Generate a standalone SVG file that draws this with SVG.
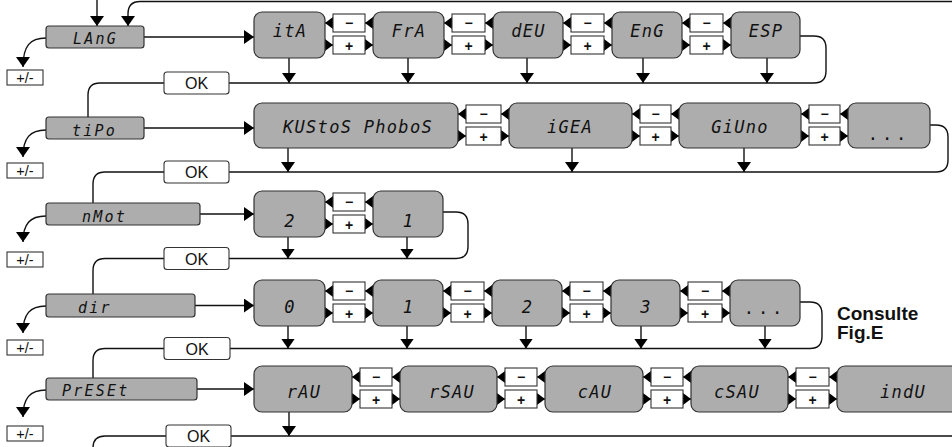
<svg xmlns="http://www.w3.org/2000/svg" width="952" height="447" viewBox="0 0 952 447">
<defs>
<style>
.ln{fill:none;stroke:#111;stroke-width:1.4}
.ar{marker-end:url(#ah)}
.tr{marker-end:url(#tr)}
.gb{fill:#adadad;stroke:#333;stroke-width:1.2}
.wb{fill:#fff;stroke:#333;stroke-width:1.1}
.seg{font-family:"DejaVu Sans Mono",monospace;font-style:italic;fill:#111}
.lt{font-size:15px;letter-spacing:2.2px}
.vt{font-size:17px;letter-spacing:1.3px;text-anchor:middle}
.dots{font-family:"DejaVu Sans Mono",monospace;font-size:17px;letter-spacing:4px;text-anchor:middle;fill:#111}
.bt{font-family:"Liberation Sans",Arial,sans-serif;text-anchor:middle;fill:#111}
.pm{font-size:14px;font-weight:bold}
.ok{font-size:16px}
.pl{font-size:14.5px}
.note{font-family:"Liberation Sans",Arial,sans-serif;font-weight:bold;font-size:19px;fill:#111}
</style>
<marker id="ah" viewBox="0 0 10 14" refX="10" refY="7" markerWidth="10" markerHeight="14" markerUnits="userSpaceOnUse" orient="auto"><path d="M0,0 L10,7 L0,14 Z" fill="#000"/></marker>
<marker id="tr" viewBox="0 0 8 12" refX="8" refY="6" markerWidth="8" markerHeight="12" markerUnits="userSpaceOnUse" orient="auto"><path d="M0,0 L8,6 L0,12 Z" fill="#000"/></marker>
</defs>
<rect width="952" height="447" fill="#fff"/>

<g id="connectors">
<path class="ln ar" d="M97,0 V26"/>
<path class="ln ar" d="M952,1.5 H140 Q128,1.5 128,14 V26"/>
<path class="ln ar" d="M144,37 H254"/>
<path class="ln ar" d="M144,128 H254"/>
<path class="ln ar" d="M200,214 H254"/>
<path class="ln ar" d="M195,305.5 H254"/>
<path class="ln ar" d="M197,389 H254"/>
<path class="ln ar" d="M46,38 C30,38 23,46 23,67"/>
<path class="ln ar" d="M46,130 C30,130 23,138 23,157"/>
<path class="ln ar" d="M46,216 C30,216 23,224 23,242"/>
<path class="ln ar" d="M46,306 C30,306 23,314 23,333"/>
<path class="ln ar" d="M46,390 C30,390 23,398 23,417"/>
<path class="ln" d="M800,36 H814 Q826,36 826,48 V71 Q826,83 814,83 H100 Q88,83 88,95 V117"/>
<path class="ln" d="M930,125 H936 Q948,125 948,137 V160 Q948,172 936,172 H105 Q93,172 93,184 V203"/>
<path class="ln" d="M443,212 H456 Q468,212 468,224 V246.5 Q468,258.5 456,258.5 H105 Q93,258.5 93,270.5 V294"/>
<path class="ln" d="M800,302 H810 Q822,302 822,314 V336.5 Q822,348.5 810,348.5 H105 Q93,348.5 93,360.5 V378"/>
<path class="ln" d="M952,436 H105 Q93,436 93,448"/>
<path class="ln ar" d="M289,58 V83"/>
<path class="ln ar" d="M408,58 V83"/>
<path class="ln ar" d="M527,58 V83"/>
<path class="ln ar" d="M643,58 V83"/>
<path class="ln ar" d="M767,58 V83"/>
<path class="ln ar" d="M288,148 V172"/>
<path class="ln ar" d="M572,148 V172"/>
<path class="ln ar" d="M744,148 V172"/>
<path class="ln ar" d="M288,237 V258.5"/>
<path class="ln ar" d="M407,237 V258.5"/>
<path class="ln ar" d="M288,326 V348.5"/>
<path class="ln ar" d="M407,326 V348.5"/>
<path class="ln ar" d="M526,326 V348.5"/>
<path class="ln ar" d="M641,326 V348.5"/>
<path class="ln ar" d="M765,326 V348.5"/>
<path class="ln ar" d="M289,412 V436"/>
<path class="ln tr" d="M333,23 H325"/><path class="ln tr" d="M373,23 H365"/><path class="ln tr" d="M325,45 H333"/><path class="ln tr" d="M365,45 H373"/>
<path class="ln tr" d="M452,23 H444"/><path class="ln tr" d="M493,23 H485"/><path class="ln tr" d="M444,45 H452"/><path class="ln tr" d="M485,45 H493"/>
<path class="ln tr" d="M571,23 H563"/><path class="ln tr" d="M612,23 H604"/><path class="ln tr" d="M563,45 H571"/><path class="ln tr" d="M604,45 H612"/>
<path class="ln tr" d="M690,23 H682"/><path class="ln tr" d="M731,23 H723"/><path class="ln tr" d="M682,45 H690"/><path class="ln tr" d="M723,45 H731"/>
<path class="ln tr" d="M466,114 H458"/><path class="ln tr" d="M509,114 H501"/><path class="ln tr" d="M458,136 H466"/><path class="ln tr" d="M501,136 H509"/>
<path class="ln tr" d="M640,114 H632"/><path class="ln tr" d="M679,114 H671"/><path class="ln tr" d="M632,136 H640"/><path class="ln tr" d="M671,136 H679"/>
<path class="ln tr" d="M809,114 H801"/><path class="ln tr" d="M848,114 H840"/><path class="ln tr" d="M801,136 H809"/><path class="ln tr" d="M840,136 H848"/>
<path class="ln tr" d="M333,202 H325"/><path class="ln tr" d="M373,202 H365"/><path class="ln tr" d="M325,224 H333"/><path class="ln tr" d="M365,224 H373"/>
<path class="ln tr" d="M333,291 H325"/><path class="ln tr" d="M373,291 H365"/><path class="ln tr" d="M325,313 H333"/><path class="ln tr" d="M365,313 H373"/>
<path class="ln tr" d="M451,291 H443"/><path class="ln tr" d="M492,291 H484"/><path class="ln tr" d="M443,313 H451"/><path class="ln tr" d="M484,313 H492"/>
<path class="ln tr" d="M570,291 H562"/><path class="ln tr" d="M611,291 H603"/><path class="ln tr" d="M562,313 H570"/><path class="ln tr" d="M603,313 H611"/>
<path class="ln tr" d="M688,291 H680"/><path class="ln tr" d="M730,291 H722"/><path class="ln tr" d="M680,313 H688"/><path class="ln tr" d="M722,313 H730"/>
<path class="ln tr" d="M360,377 H352"/><path class="ln tr" d="M400,377 H392"/><path class="ln tr" d="M352,399 H360"/><path class="ln tr" d="M392,399 H400"/>
<path class="ln tr" d="M505,377 H497"/><path class="ln tr" d="M545,377 H537"/><path class="ln tr" d="M497,399 H505"/><path class="ln tr" d="M537,399 H545"/>
<path class="ln tr" d="M651,377 H643"/><path class="ln tr" d="M691,377 H683"/><path class="ln tr" d="M643,399 H651"/><path class="ln tr" d="M683,399 H691"/>
<path class="ln tr" d="M796,377 H788"/><path class="ln tr" d="M837,377 H829"/><path class="ln tr" d="M788,399 H796"/><path class="ln tr" d="M829,399 H837"/>
</g>

<g id="lbl-lang"><rect class="gb" x="46" y="26" width="98" height="22" rx="3"/><text class="seg lt" x="73" y="44">LAnG</text></g>
<g id="lbl-tipo"><rect class="gb" x="46" y="117" width="98" height="22" rx="3"/><text class="seg lt" x="72" y="136">tiPo</text></g>
<g id="lbl-nmot"><rect class="gb" x="46" y="203" width="154" height="22" rx="3"/><text class="seg lt" x="82" y="222">nMot</text></g>
<g id="lbl-dir"><rect class="gb" x="46" y="294" width="149" height="23" rx="3"/><text class="seg lt" x="78" y="313">dir</text></g>
<g id="lbl-preset"><rect class="gb" x="46" y="378" width="151" height="22" rx="3"/><text class="seg lt" x="62" y="396">PrESEt</text></g>

<g id="pm-1"><rect class="wb" x="7" y="70" width="36" height="15"/><text class="bt pl" x="25" y="82.5">+/-</text></g>
<g id="pm-2"><rect class="wb" x="7" y="163" width="36" height="15"/><text class="bt pl" x="25" y="175.5">+/-</text></g>
<g id="pm-3"><rect class="wb" x="7" y="252" width="36" height="15"/><text class="bt pl" x="25" y="264.5">+/-</text></g>
<g id="pm-4"><rect class="wb" x="7" y="340" width="36" height="15"/><text class="bt pl" x="25" y="352.5">+/-</text></g>
<g id="pm-5"><rect class="wb" x="7" y="426" width="36" height="15"/><text class="bt pl" x="25" y="438.5">+/-</text></g>

<g id="ok-1"><rect class="wb" x="164" y="72" width="65" height="22" rx="3"/><text class="bt ok" x="196.5" y="89">OK</text></g>
<g id="ok-2"><rect class="wb" x="164" y="161" width="65" height="22" rx="3"/><text class="bt ok" x="196.5" y="178">OK</text></g>
<g id="ok-3"><rect class="wb" x="164" y="247.5" width="65" height="22" rx="3"/><text class="bt ok" x="196.5" y="264.5">OK</text></g>
<g id="ok-4"><rect class="wb" x="164" y="337.5" width="66" height="22" rx="3"/><text class="bt ok" x="197" y="354.5">OK</text></g>
<g id="ok-5"><rect class="wb" x="166" y="425" width="65" height="22" rx="3"/><text class="bt ok" x="198.5" y="442">OK</text></g>

<g id="v-ita"><rect class="gb" x="254" y="12" width="71" height="46" rx="8"/><text class="seg vt" x="290" y="37">itA</text></g>
<g id="v-fra"><rect class="gb" x="373" y="12" width="71" height="46" rx="8"/><text class="seg vt" x="409" y="37">FrA</text></g>
<g id="v-deu"><rect class="gb" x="493" y="12" width="70" height="46" rx="8"/><text class="seg vt" x="528.5" y="37">dEU</text></g>
<g id="v-eng"><rect class="gb" x="612" y="12" width="70" height="46" rx="8"/><text class="seg vt" x="647.5" y="37">EnG</text></g>
<g id="v-esp"><rect class="gb" x="731" y="12" width="69" height="46" rx="8"/><text class="seg vt" x="766" y="37">ESP</text></g>
<g id="v-kustos"><rect class="gb" x="254" y="103" width="204" height="45" rx="8"/><text class="seg vt" x="358" y="133">KUStoS PhoboS</text></g>
<g id="v-igea"><rect class="gb" x="509" y="103" width="123" height="45" rx="8"/><text class="seg vt" x="570" y="133">iGEA</text></g>
<g id="v-giuno"><rect class="gb" x="679" y="103" width="122" height="45" rx="8"/><text class="seg vt" x="740" y="133">GiUno</text></g>
<g id="v-tipo-more"><rect class="gb" x="848" y="103" width="82" height="45" rx="8"/><text class="dots" x="889" y="140">...</text></g>
<g id="v-nmot-2"><rect class="gb" x="254" y="191" width="71" height="46" rx="8"/><text class="seg vt" x="290" y="227">2</text></g>
<g id="v-nmot-1"><rect class="gb" x="373" y="191" width="70" height="46" rx="8"/><text class="seg vt" x="408.5" y="227">1</text></g>
<g id="v-dir-0"><rect class="gb" x="254" y="280" width="71" height="46" rx="8"/><text class="seg vt" x="290" y="313">0</text></g>
<g id="v-dir-1"><rect class="gb" x="373" y="280" width="70" height="46" rx="8"/><text class="seg vt" x="408.5" y="313">1</text></g>
<g id="v-dir-2"><rect class="gb" x="492" y="280" width="70" height="46" rx="8"/><text class="seg vt" x="527.5" y="313">2</text></g>
<g id="v-dir-3"><rect class="gb" x="611" y="280" width="69" height="46" rx="8"/><text class="seg vt" x="646" y="313">3</text></g>
<g id="v-dir-more"><rect class="gb" x="730" y="280" width="70" height="46" rx="8"/><text class="dots" x="765" y="314">...</text></g>
<g id="v-rau"><rect class="gb" x="254" y="366" width="98" height="46" rx="8"/><text class="seg vt" x="304" y="398">rAU</text></g>
<g id="v-rsau"><rect class="gb" x="400" y="366" width="97" height="46" rx="8"/><text class="seg vt" x="452" y="398">rSAU</text></g>
<g id="v-cau"><rect class="gb" x="545" y="366" width="98" height="46" rx="8"/><text class="seg vt" x="595" y="398">cAU</text></g>
<g id="v-csau"><rect class="gb" x="691" y="366" width="97" height="46" rx="8"/><text class="seg vt" x="737" y="398">cSAU</text></g>
<g id="v-indu"><rect class="gb" x="837" y="366" width="130" height="46" rx="8"/><text class="seg vt" x="903" y="398">indU</text></g>

<g id="b-1a"><rect class="wb" x="333" y="14" width="32" height="18"/><text class="bt pm" x="349" y="28">−</text><rect class="wb" x="333" y="36" width="32" height="18"/><text class="bt pm" x="349" y="50.5">+</text></g>
<g id="b-1b"><rect class="wb" x="452" y="14" width="33" height="18"/><text class="bt pm" x="468.5" y="28">−</text><rect class="wb" x="452" y="36" width="33" height="18"/><text class="bt pm" x="468.5" y="50.5">+</text></g>
<g id="b-1c"><rect class="wb" x="571" y="14" width="33" height="18"/><text class="bt pm" x="587.5" y="28">−</text><rect class="wb" x="571" y="36" width="33" height="18"/><text class="bt pm" x="587.5" y="50.5">+</text></g>
<g id="b-1d"><rect class="wb" x="690" y="14" width="33" height="18"/><text class="bt pm" x="706.5" y="28">−</text><rect class="wb" x="690" y="36" width="33" height="18"/><text class="bt pm" x="706.5" y="50.5">+</text></g>
<g id="b-2a"><rect class="wb" x="466" y="105" width="35" height="18"/><text class="bt pm" x="483.5" y="119">−</text><rect class="wb" x="466" y="127" width="35" height="18"/><text class="bt pm" x="483.5" y="141.5">+</text></g>
<g id="b-2b"><rect class="wb" x="640" y="105" width="31" height="18"/><text class="bt pm" x="655.5" y="119">−</text><rect class="wb" x="640" y="127" width="31" height="18"/><text class="bt pm" x="655.5" y="141.5">+</text></g>
<g id="b-2c"><rect class="wb" x="809" y="105" width="31" height="18"/><text class="bt pm" x="824.5" y="119">−</text><rect class="wb" x="809" y="127" width="31" height="18"/><text class="bt pm" x="824.5" y="141.5">+</text></g>
<g id="b-3a"><rect class="wb" x="333" y="193" width="32" height="18"/><text class="bt pm" x="349" y="207">−</text><rect class="wb" x="333" y="215" width="32" height="18"/><text class="bt pm" x="349" y="229.5">+</text></g>
<g id="b-4a"><rect class="wb" x="333" y="282" width="32" height="18"/><text class="bt pm" x="349" y="296">−</text><rect class="wb" x="333" y="304" width="32" height="18"/><text class="bt pm" x="349" y="318.5">+</text></g>
<g id="b-4b"><rect class="wb" x="451" y="282" width="33" height="18"/><text class="bt pm" x="467.5" y="296">−</text><rect class="wb" x="451" y="304" width="33" height="18"/><text class="bt pm" x="467.5" y="318.5">+</text></g>
<g id="b-4c"><rect class="wb" x="570" y="282" width="33" height="18"/><text class="bt pm" x="586.5" y="296">−</text><rect class="wb" x="570" y="304" width="33" height="18"/><text class="bt pm" x="586.5" y="318.5">+</text></g>
<g id="b-4d"><rect class="wb" x="688" y="282" width="34" height="18"/><text class="bt pm" x="705" y="296">−</text><rect class="wb" x="688" y="304" width="34" height="18"/><text class="bt pm" x="705" y="318.5">+</text></g>
<g id="b-5a"><rect class="wb" x="360" y="368" width="32" height="18"/><text class="bt pm" x="376" y="382">−</text><rect class="wb" x="360" y="390" width="32" height="18"/><text class="bt pm" x="376" y="404.5">+</text></g>
<g id="b-5b"><rect class="wb" x="505" y="368" width="32" height="18"/><text class="bt pm" x="521" y="382">−</text><rect class="wb" x="505" y="390" width="32" height="18"/><text class="bt pm" x="521" y="404.5">+</text></g>
<g id="b-5c"><rect class="wb" x="651" y="368" width="32" height="18"/><text class="bt pm" x="667" y="382">−</text><rect class="wb" x="651" y="390" width="32" height="18"/><text class="bt pm" x="667" y="404.5">+</text></g>
<g id="b-5d"><rect class="wb" x="796" y="368" width="33" height="18"/><text class="bt pm" x="812.5" y="382">−</text><rect class="wb" x="796" y="390" width="33" height="18"/><text class="bt pm" x="812.5" y="404.5">+</text></g>

<g id="note"><text class="note" x="837" y="320">Consulte</text><text class="note" x="837" y="339">Fig.E</text></g>
</svg>
